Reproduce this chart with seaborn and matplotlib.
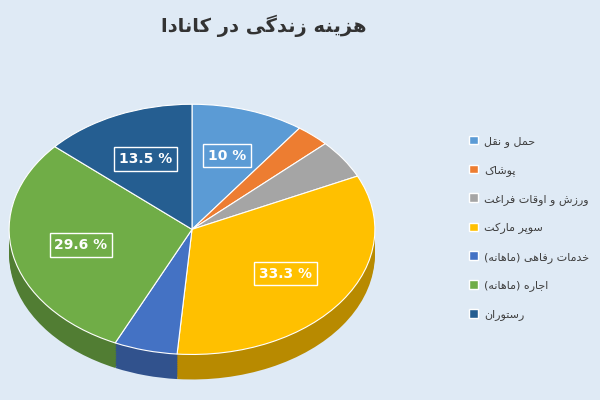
import matplotlib
matplotlib.use("Agg")
import matplotlib.pyplot as plt
import seaborn as sns
import numpy as np
import matplotlib.colors as mc

sns.set_theme(style="white")
plt.rcParams['font.family'] = ['DejaVu Sans']

title = "هزینه زندگی در کانادا"
categories = ["حمل و نقل", "پوشاک", "ورزش و اوقات فراغت", "سوپر مارکت",
              "خدمات رفاهی (ماهانه)", "اجاره (ماهانه)", "رستوران"]
values = [10, 3, 5, 33.3, 5.6, 29.6, 13.5]
shown = [True, False, False, True, False, True, True]
colors = ["#5B9BD5", "#ED7D31", "#A5A5A5", "#FFC000", "#4472C4", "#70AD47", "#255E91"]

# minimal Persian shaping: (isolated, final, initial, medial)
F = {
 'ا': (0xFE8D, 0xFE8E, None, None), 'د': (0xFEA9, 0xFEAA, None, None),
 'ر': (0xFEAD, 0xFEAE, None, None), 'ز': (0xFEAF, 0xFEB0, None, None),
 'و': (0xFEED, 0xFEEE, None, None),
 'پ': (0xFB56, 0xFB57, 0xFB58, 0xFB59), 'ت': (0xFE95, 0xFE96, 0xFE97, 0xFE98),
 'ج': (0xFE9D, 0xFE9E, 0xFE9F, 0xFEA0), 'ح': (0xFEA1, 0xFEA2, 0xFEA3, 0xFEA4),
 'خ': (0xFEA5, 0xFEA6, 0xFEA7, 0xFEA8), 'س': (0xFEB1, 0xFEB2, 0xFEB3, 0xFEB4),
 'ش': (0xFEB5, 0xFEB6, 0xFEB7, 0xFEB8), 'غ': (0xFECD, 0xFECE, 0xFECF, 0xFED0),
 'ف': (0xFED1, 0xFED2, 0xFED3, 0xFED4), 'ق': (0xFED5, 0xFED6, 0xFED7, 0xFED8),
 'ک': (0xFB8E, 0xFB8F, 0xFB90, 0xFB91), 'گ': (0xFB92, 0xFB93, 0xFB94, 0xFB95),
 'ل': (0xFEDD, 0xFEDE, 0xFEDF, 0xFEE0), 'م': (0xFEE1, 0xFEE2, 0xFEE3, 0xFEE4),
 'ن': (0xFEE5, 0xFEE6, 0xFEE7, 0xFEE8), 'ه': (0xFEE9, 0xFEEA, 0xFEEB, 0xFEEC),
 'ی': (0xFBFC, 0xFBFD, 0xFBFE, 0xFBFF),
}

def shape(s):
    out = []
    for i, ch in enumerate(s):
        if ch not in F:
            out.append({'(': ')', ')': '('}.get(ch, ch))
            continue
        iso, fin, ini, med = F[ch]
        prev = s[i-1] if i > 0 else ''
        nxt = s[i+1] if i + 1 < len(s) else ''
        pj = prev in F and F[prev][2] is not None
        nj = ini is not None and nxt in F
        if pj and nj: c = med
        elif pj: c = fin
        elif nj: c = ini
        else: c = iso
        out.append(chr(c))
    return ''.join(reversed(out))

bg = "#dfeaf5"
fig = plt.figure(figsize=(6, 4), dpi=100, facecolor=bg)
ax = fig.add_axes([0.0, 0.02, 0.64, 0.735])
ax.set_facecolor(bg)

dark = [tuple(np.array(mc.to_rgb(c)) * 0.72) for c in colors]
for d in np.linspace(0.2, 0.01, 12):
    ax.pie(values, colors=dark, startangle=90, counterclock=False, center=(0, -d),
           radius=1, frame=True, wedgeprops=dict(linewidth=0))
wedges, _ = ax.pie(values, colors=colors, startangle=90, counterclock=False,
                   center=(0, 0), radius=1, frame=True,
                   wedgeprops=dict(linewidth=0.8, edgecolor="white"))
ax.set_aspect('auto')
ax.set_xlim(-1.05, 1.05)
ax.set_ylim(-1.3, 1.05)
ax.axis('off')

for w, v, s, c in zip(wedges, values, shown, colors):
    if not s:
        continue
    th = np.deg2rad((w.theta1 + w.theta2) / 2)
    r = 0.62
    ax.text(r * np.cos(th), r * np.sin(th), f"{v:g} %", ha='center', va='center',
            color='white', fontsize=10, fontweight='bold',
            bbox=dict(boxstyle='square,pad=0.35', fc=c, ec='white', lw=1))

handles = [plt.Rectangle((0, 0), 1, 1, fc=c) for c in colors]
fig.legend(handles, [shape(t) for t in categories], loc='center left',
           bbox_to_anchor=(0.775, 0.43), frameon=False, fontsize=8,
           labelcolor='#404040', handlelength=0.8, handleheight=0.8,
           handletextpad=0.5, labelspacing=1.6, borderaxespad=0)

fig.text(0.44, 0.935, shape(title), ha='center', va='center', fontsize=14,
         fontweight='bold', color='#333333')
fig.savefig("out.png", dpi=100, facecolor=bg)
